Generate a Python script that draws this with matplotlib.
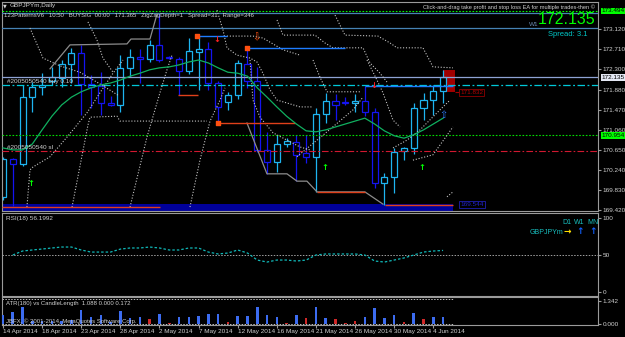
import matplotlib
matplotlib.use("Agg")
import matplotlib.pyplot as plt
from matplotlib.patches import Rectangle
import numpy as np

W, H = 625, 337

# ---------------- data ----------------
date_labels = ["14 Apr 2014", "18 Apr 2014", "23 Apr 2014", "28 Apr 2014", "2 May 2014", "7 May 2014",
               "12 May 2014", "16 May 2014", "21 May 2014", "26 May 2014", "30 May 2014", "4 Jun 2014"]
date_pos = [0, 4, 8, 12, 16, 20, 24, 28, 32, 36, 40, 44]

opens = [169.69, 170.46, 170.36, 171.73, 171.94, 172.06, 172.12, 172.41, 172.63, 172.00,
         171.96, 171.61, 171.57, 172.33, 172.55, 172.51, 172.80, 172.55, 172.51, 172.27,
         172.65, 172.72, 172.02, 171.63, 171.77, 172.41, 172.06, 170.65, 170.40, 170.77,
         170.81, 170.59, 170.50, 171.38, 171.65, 171.63, 171.61, 171.65, 171.43, 169.97,
         170.10, 170.63, 170.69, 171.51, 171.67, 171.86]
highs = [170.50, 170.48, 171.98, 172.04, 172.22, 172.35, 172.49, 172.74, 172.80, 172.18,
         172.24, 171.75, 172.59, 172.72, 172.72, 172.90, 173.45, 172.57, 172.55, 172.94,
         172.98, 172.86, 172.06, 171.84, 172.49, 172.76, 172.35, 171.02, 170.96, 170.90,
         170.96, 170.96, 171.51, 171.82, 171.80, 171.73, 171.80, 171.96, 171.51, 170.18,
         170.69, 170.70, 171.61, 171.82, 171.98, 172.29]
lows = [169.62, 169.50, 170.32, 171.43, 171.77, 171.98, 171.94, 172.02, 171.36, 171.51,
        171.36, 171.55, 171.43, 172.14, 172.02, 172.45, 172.45, 172.51, 171.77, 172.20,
        171.88, 171.88, 171.20, 171.47, 171.69, 171.92, 170.61, 170.16, 170.20, 170.71,
        170.01, 170.38, 169.79, 171.20, 171.26, 171.57, 171.43, 171.34, 169.87, 169.52,
        169.77, 170.44, 170.57, 171.26, 171.36, 171.61]
closes = [170.46, 170.36, 171.73, 171.94, 171.98, 172.14, 172.41, 172.63, 172.00, 171.94,
          171.61, 171.57, 172.33, 172.55, 172.51, 172.80, 172.49, 172.53, 172.27, 172.67,
          172.72, 172.02, 171.53, 171.77, 172.43, 172.06, 170.65, 170.40, 170.77, 170.83,
          170.55, 170.50, 171.38, 171.65, 171.57, 171.62, 171.65, 171.43, 169.97, 170.10,
          170.61, 170.69, 171.51, 171.67, 171.86, 172.135]

ma_line = [170.69, 170.65, 170.65, 170.77, 171.06, 171.34, 171.57, 171.73, 171.84, 171.92,
           171.98, 172.02, 172.08, 172.16, 172.22, 172.29, 172.33, 172.35, 172.39, 172.45,
           172.49, 172.43, 172.33, 172.24, 172.22, 172.16, 171.92, 171.73, 171.53, 171.34,
           171.18, 171.04, 171.02, 171.06, 171.12, 171.18, 171.24, 171.30, 171.18, 171.04,
           170.94, 170.89, 170.96, 171.06, 171.18, 171.30]

rsi = [np.nan, 50.0, 55.4, 56.8, 58.1, 59.5, 60.8, 60.8, 56.8, 54.0,
       54.0, 54.0, 58.0, 59.5, 59.5, 60.8, 59.5, 56.8, 56.8, 59.5,
       59.5, 54.0, 51.4, 52.7, 56.8, 52.7, 43.2, 40.5, 43.2, 43.2,
       41.9, 43.2, 50.0, 51.4, 51.4, 51.4, 51.4, 50.0, 41.9, 40.5,
       43.2, 46.0, 50.0, 54.0, 55.4, 56.2]

atr_vals = [0.53, 0.68, 0.97, 0.15, 0.20, 0.15, 0.20, 0.25, 0.82, 0.39,
            0.53, 0.10, 0.76, 0.37, 0.43, 0.29, 0.58, 0.04, 0.43, 0.43,
            0.47, 0.58, 0.60, 0.14, 0.47, 0.47, 0.99, 0.51, 0.43, 0.08,
            0.53, 0.37, 0.97, 0.37, 0.29, 0.04, 0.18, 0.43, 0.95, 0.37,
            0.53, 0.14, 0.62, 0.29, 0.43, 0.43]
atr_red = [15, 17, 23, 29, 31, 34, 35, 36, 41, 43]

price_ticks = [173.120, 172.710, 172.300, 171.880, 171.470, 171.060, 170.650, 170.240, 169.830, 169.420]

# full-width levels
lvl_green_top = 173.494
lvl_blue_a = 173.45
lvl_blue_b = 173.145
lvl_bid = 172.135
lvl_buy = 171.977
lvl_tp_green = 170.954
lvl_sl = 170.63
band_top = 169.544
lvl_red_box = 171.832

# (start index, end index, price)
red_segments = [(-0.1, 16.05, 169.49), (17.9, 19.9, 171.77), (21.98, 29.86, 171.20),
                (32.1, 37.0, 169.79), (39.06, 46.0, 169.52)]
blue_segments = [(19.84, 22.9, 172.98), (24.95, 35.0, 172.74), (37.0, 46.0, 171.96)]
orange_dots_x = [19.84, 24.95, 21.98]
orange_dots_y = [172.98, 172.74, 171.20]

grey_paths = [
    ([4.81, 6.85, 12.68, 13.09, 15.03, 15.75], [172.31, 172.80, 172.82, 172.92, 172.92, 173.43]),
    ([24.95, 26.99, 29.04, 30.06, 31.08, 32.11, 37.01, 38.85],
     [171.20, 170.16, 170.16, 170.01, 170.01, 169.79, 169.79, 169.54]),
]

dotted_paths = [
    ([2.45, 2.76, 3.07, 4.81, 6.54, 8.59, 9.92, 11.25, 12.27],
     [169.48, 170.24, 170.30, 170.51, 170.91, 171.41, 171.82, 172.22, 172.49]),
    ([7.06, 8.69, 8.90, 11.66, 11.96, 20.86], [169.48, 171.16, 171.32, 171.34, 171.24, 171.24]),
    ([12.99, 14.72, 16.05, 16.77, 17.28], [169.48, 170.91, 171.82, 172.29, 172.59]),
    ([19.12, 20.14, 21.17, 22.19, 22.70], [169.48, 170.44, 171.24, 171.67, 171.92]),
    ([2.76, 4.09, 5.83, 7.87, 9.92, 11.76], [173.145, 172.53, 172.37, 172.24, 172.00, 171.77]),
    ([8.69, 9.61, 10.22, 11.25], [173.27, 172.90, 172.53, 172.24]),
    ([21.88, 22.49, 22.90, 23.93, 25.26, 25.97, 26.58, 27.30, 28.02, 29.04, 30.37, 31.70],
     [173.51, 173.11, 172.74, 172.59, 172.53, 172.45, 172.22, 171.88, 171.67, 171.61, 171.53, 171.53]),
    ([25.26, 25.56, 26.28, 27.61, 29.04, 30.37, 31.39], [172.49, 171.67, 171.32, 171.00, 170.85, 170.71, 170.65]),
    ([22.90, 25.56, 26.58, 28.63, 30.37], [172.98, 172.98, 172.94, 172.70, 172.59]),
    ([28.02, 28.63, 31.90, 32.92, 33.74, 36.81, 37.53, 38.55, 39.26],
     [173.31, 173.00, 173.00, 172.84, 172.74, 172.74, 172.43, 172.22, 172.04]),
    ([33.95, 34.97, 38.34, 39.57, 40.29, 42.94, 43.97, 46.01],
     [173.41, 173.00, 172.98, 172.84, 172.74, 172.74, 172.35, 172.33]),
    ([31.70, 32.41, 33.13, 36.50], [172.49, 172.14, 171.84, 171.84]),
    ([37.22, 38.24, 38.85, 39.88, 40.59], [172.49, 172.08, 171.82, 171.26, 171.12]),
    ([30.06, 33.13, 35.79, 36.81], [170.51, 171.02, 171.47, 171.73]),
    ([39.88, 41.31, 42.64, 44.38, 45.71], [170.69, 170.85, 171.06, 171.41, 171.67]),
    ([41.92, 43.97, 46.01], [170.44, 170.55, 171.12]),
    ([45.40, 46.01], [169.69, 169.79]),
]

green_arrows_x = [2.86, 32.92, 42.84]
green_arrows_y = [169.97, 170.28, 170.28]
red_arrows_x = [21.88, 37.93]
red_arrows_y = [172.92, 171.96]

# ---------------- drawing ----------------
BG = "black"
FRAME = "#9a9a9a"
TXT = "#d0d0d0"
BULL = "#1eb4f0"
BEAR = "#1414f0"
FS = 4.6
plt.rcParams["font.family"] = ["Liberation Sans", "DejaVu Sans"]

fig = plt.figure(figsize=(W / 100, H / 100), dpi=100, facecolor=BG)


def px_axes(x0, y0, x1, y1):
    ax = fig.add_axes([x0 / W, 1 - y1 / H, (x1 - x0) / W, (y1 - y0) / H])
    ax.set_facecolor(BG)
    for s in ax.spines.values():
        s.set_color(FRAME)
        s.set_linewidth(0.8)
    ax.yaxis.tick_right()
    ax.tick_params(axis="y", colors=FRAME, labelcolor=TXT, labelsize=FS, length=2, pad=1.5)
    ax.set_xlim(-0.1, 60.84)
    return ax


ax = px_axes(2, 2, 598, 211)
ax_rsi = px_axes(2, 213, 598, 296)
ax_atr = px_axes(2, 297, 598, 325)
ax.set_ylim(169.399, 173.678)
ax_rsi.set_ylim(-5.4, 106.8)
ax_atr.set_ylim(-0.06, 1.575)

n = len(opens)
idx = np.arange(n)

# bottom band
ax.add_patch(Rectangle((-0.1, 169.399), 46.07, band_top - 169.399, fc="#00009a", ec="none", zorder=1))

# full-width levels
ax.axhline(lvl_green_top, color="#00ff00", lw=0.8, ls=(0, (1.5, 1.5)), zorder=3)
ax.axhline(lvl_blue_a, color="#4682b4", lw=0.9, zorder=3)
ax.axhline(lvl_blue_b, color="#4682b4", lw=0.9, zorder=3)
ax.axhline(lvl_bid, color="#8ea2d4", lw=0.9, zorder=3)
ax.axhline(lvl_buy, color="#00c8d8", lw=0.9, ls=(0, (6, 2, 1.5, 2)), zorder=3)
ax.axhline(lvl_tp_green, color="#00e000", lw=0.8, ls=(0, (1.5, 1.5)), zorder=3)
ax.axhline(lvl_sl, color="#d01830", lw=0.8, ls=(0, (6, 2, 1.5, 2)), zorder=3)

# last-bar highlight
ax.add_patch(Rectangle((idx[-1] - 0.05, lvl_red_box), 1.25, highs[-1] - lvl_red_box,
                       fc="#a00000", ec="none", zorder=1.5))
ax.hlines(lvl_red_box, idx[-1] + 1.2, idx[-1] + 1.6, color="#a00000", lw=0.8, zorder=3)

# candles
for i in range(n):
    o, h, l, c = opens[i], highs[i], lows[i], closes[i]
    col = BULL if c >= o else BEAR
    lo_b, hi_b = min(o, c), max(o, c)
    ax.vlines(i, l, lo_b, color=col, lw=0.9, zorder=2)
    ax.vlines(i, hi_b, h, color=col, lw=0.9, zorder=2)
    ax.add_patch(Rectangle((i - 0.31, lo_b), 0.62, max(hi_b - lo_b, 0.004),
                           fc=BG, ec=col, lw=0.9, zorder=2))

# indicator lines
for xs, ys in dotted_paths:
    ax.plot(xs, ys, color="#c4c4c4", lw=0.8, ls=(0, (1, 1.6)), zorder=3)
for xs, ys in grey_paths:
    ax.plot(xs, ys, color="#8c8c8c", lw=0.9, zorder=3)
for x0, x1, y in red_segments:
    ax.hlines(y, x0, x1, color="#e0401a", lw=1.0, zorder=3)
for x0, x1, y in blue_segments:
    ax.hlines(y, x0, x1, color="#1e7cff", lw=1.0, zorder=3)
ax.scatter(orange_dots_x, orange_dots_y, s=5, marker="s", color="#ff5010", zorder=4)
ax.plot(idx, ma_line, color="#10b060", lw=0.9, zorder=4)

for x, y in zip(green_arrows_x, green_arrows_y):
    ax.text(x, y, "\u2191", color="#00ff00", fontsize=6, fontweight="bold", ha="center", va="center",
            family="DejaVu Sans", zorder=5)
for x, y in zip(red_arrows_x, red_arrows_y):
    ax.text(x, y, "\u2193", color="#ff2020", fontsize=6, fontweight="bold", ha="center", va="center",
            family="DejaVu Sans", zorder=5)
ax.text(25.87, 172.96, "\u21e9", color="#ff5010", fontsize=7, ha="center", va="center",
        family="DejaVu Sans", zorder=5)
ax.text(44.99, 171.36, "\u21e7", color="#3080ff", fontsize=7, ha="center", va="center",
        family="DejaVu Sans", zorder=5)

# price axis
ax.set_yticks(price_ticks)
ax.set_yticklabels([f"{p:.3f}" for p in price_ticks])
ax.set_xticks([])


def right_box(a, y, s, fc, tc="black"):
    a.annotate(s, xy=(1.0, y), xycoords=("axes fraction", "data"), xytext=(2.5, 0),
               textcoords="offset points", ha="left", va="center", fontsize=FS, color=tc,
               bbox=dict(boxstyle="square,pad=0.15", fc=fc, ec="none"), zorder=6, annotation_clip=False)


right_box(ax, lvl_green_top, "173.494", "#00ff00")
right_box(ax, lvl_bid, "172.135", "#e4e8f4")
right_box(ax, lvl_tp_green, "170.954", "#00ff00")

ax.text(idx[-1] + 1.75, lvl_red_box, "171.832", color="#b00000", fontsize=FS, va="center", ha="left",
        bbox=dict(boxstyle="square,pad=0.15", fc=BG, ec="#900000", lw=0.6), zorder=6)
ax.text(idx[-1] + 1.75, band_top - 0.02, "169.544", color="#2020c8", fontsize=FS, va="center", ha="left",
        bbox=dict(boxstyle="square,pad=0.15", fc=BG, ec="#2020b0", lw=0.6), zorder=6)

ax.text(0.4, lvl_buy + 0.02, "#2005050540 buy 0.10", color=TXT, fontsize=FS, va="bottom", ha="left", zorder=6)
ax.text(0.4, lvl_sl + 0.02, "#2005050540 sl", color=TXT, fontsize=FS, va="bottom", ha="left", zorder=6)

# header texts
fig.text(3 / W, 1 - 6 / H, "\u25bc", color=TXT, fontsize=3.5, va="center", family="DejaVu Sans")
fig.text(10 / W, 1 - 6 / H, "GBPJPYm,Daily", color=TXT, fontsize=FS, va="center")
fig.text(4 / W, 1 - 16 / H,
         "123PatternsV6   10:50   BUYSIG  00:00   171.365   ZigZagDepth=1   Spread=31   Range=346",
         color=TXT, fontsize=4.3, va="center")
fig.text(595 / W, 1 - 7 / H, "Click-and-drag take profit and stop loss EA for multiple trades-then \u00a9",
         color=TXT, fontsize=4.1, va="center", ha="right")
fig.text(595 / W, 1 - 20 / H, "172.135", color="#00ff00", fontsize=11.5, va="center", ha="right")
fig.text(529 / W, 1 - 24 / H, "W1", color="#6a8ab0", fontsize=FS, va="center")
fig.text(548 / W, 1 - 34 / H, "Spread: 3.1", color="#00c8c8", fontsize=5.5, va="center")

# RSI panel
ax_rsi.plot(idx, rsi, color="#10b8b8", lw=0.9, ls=(0, (2, 1.6)), zorder=3)
ax_rsi.axhline(50, color="#a0a0a0", lw=0.7, ls=(0, (1.5, 1.5)), zorder=2)
ax_rsi.set_yticks([0, 50, 100])
ax_rsi.set_yticklabels(["0", "50", "100"])
ax_rsi.set_xticks([])
ax_rsi.text(0.006, 0.93, "RSI(18) 56.1992", transform=ax_rsi.transAxes, color=TXT, fontsize=FS, va="center")
for s, xp in zip(["D1", "W1", "MN"], [562, 574, 587]):
    fig.text(xp / W, 1 - 223 / H, s, color="#18c0c0", fontsize=5, va="center")
fig.text(530 / W, 1 - 232 / H, "GBPJPYm", color="#18c0c0", fontsize=5, va="center")
fig.text(563 / W, 1 - 232 / H, "\u2192", color="#ffe000", fontsize=6.5, fontweight="bold", va="center",
         family="DejaVu Sans")
for xp in [576, 589]:
    fig.text(xp / W, 1 - 232 / H, "\u2191", color="#1060ff", fontsize=6.5, fontweight="bold", va="center",
             family="DejaVu Sans")

# ATR panel
atr_cols = ["#d02828" if i in atr_red else "#3c6cf0" for i in range(n)]
ax_atr.bar(idx, atr_vals, width=0.26, color=atr_cols, zorder=3)
ax_atr.hlines([1.46, 0.0], -0.1, 46.0, color="#c0c0c0", lw=0.7, ls=(0, (1.5, 1.5)), zorder=2)
ax_atr.set_yticks([0.0, 1.342])
ax_atr.set_yticklabels(["0.000", "1.342"])
ax_atr.text(0.006, 0.78, "ATR(180) vs CandleLength  1.088 0.000 0.172", transform=ax_atr.transAxes,
            color=TXT, fontsize=4.3, va="center", zorder=4)
ax_atr.text(0.006, 0.12, "JBFX, \u00a9 2001-2014, MetaQuotes Software Corp.", transform=ax_atr.transAxes,
            color=TXT, fontsize=4.3, va="center", zorder=4)
ax_atr.set_xticks(date_pos)
ax_atr.set_xticklabels(date_labels)
ax_atr.tick_params(axis="x", colors=FRAME, labelcolor=TXT, labelsize=FS, length=2, pad=1)
for lab in ax_atr.get_xticklabels():
    lab.set_ha("left")

fig.savefig("out.png", dpi=100, facecolor=BG)
